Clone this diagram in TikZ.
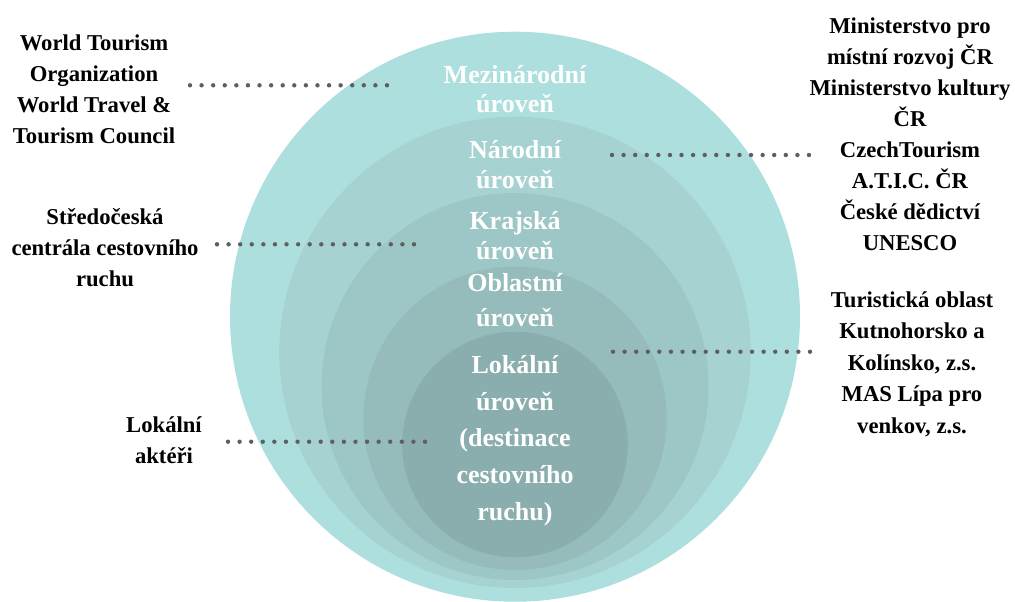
\documentclass[tikz,border=0pt]{standalone}
\usepackage{fontspec}
\setmainfont{Liberation Serif}
\definecolor{lvA}{HTML}{AEDFDF}
\definecolor{lvB}{HTML}{A6D2D2}
\definecolor{lvC}{HTML}{9DC7C6}
\definecolor{lvD}{HTML}{95BCBB}
\definecolor{lvE}{HTML}{8AADAD}
\definecolor{dotc}{HTML}{5F5F5F}
\begin{document}
\begin{tikzpicture}[x=0.75pt,y=-0.75pt,
  actor/.style={font=\fontsize{17}{23.25}\selectfont\bfseries, align=center, inner sep=0pt, anchor=base, text=black},
  level/.style={text=white, align=center, inner sep=0pt, anchor=base},
  dotline/.style={draw=dotc, line width=3.3pt, line cap=round, dash pattern=on 0pt off 8.691pt}]
\useasboundingbox (0,0) rectangle (1015,601);
\clip (0,0) rectangle (1015,601);
% nested circles
\fill[lvA] (515,316.7) circle [radius=285];
\fill[lvB] (515,352.3) circle [radius=235.7];
\fill[lvC] (515,386.5) circle [radius=193.5];
\fill[lvD] (515,418.3) circle [radius=151.7];
\fill[lvE] (515,444.5) circle [radius=112.8];
% level labels (anchor = baseline of last line)
\node[level, font=\fontsize{19.5}{22.1}\selectfont\bfseries] (mez) at (515,112.7) {Mezinárodní\\úroveň};
\node[level, font=\fontsize{19.5}{22.5}\selectfont\bfseries] (nar) at (515,188.3) {Národní\\úroveň};
\node[level, font=\fontsize{19.5}{22.0}\selectfont\bfseries] (kraj) at (515,259.3) {Krajská\\úroveň};
\node[level, font=\fontsize{19.5}{26.25}\selectfont\bfseries] (obl) at (515,326.7) {Oblastní\\úroveň};
\node[level, font=\fontsize{19.5}{27.5}\selectfont\bfseries] (lok) at (515,520) {Lokální\\úroveň\\(destinace\\cestovního\\ruchu)};
% actor texts
\node[actor] (wto) at (94,143.3) {World Tourism\\Organization\\World Travel \&\\Tourism Council};
\node[actor] (sccr) at (105,286) {Středočeská\\centrála cestovního\\ruchu};
\node[actor] (lokakt) at (164,463.3) {Lokální\\aktéři};
\node[actor] (mmr) at (910,250) {Ministerstvo pro\\místní rozvoj ČR\\Ministerstvo kultury\\ČR\\CzechTourism\\A.T.I.C. ČR\\České dědictví\\UNESCO};
\node[actor, font=\fontsize{17}{23.6}\selectfont\bfseries] (tok) at (912,433.3) {Turistická oblast\\Kutnohorsko a\\Kolínsko, z.s.\\MAS Lípa pro\\venkov, z.s.};
% dotted connectors
\coordinate (d1a) at (190,85.3);
\coordinate (d1b) at (387,85.3);
\coordinate (d2a) at (217,244.3);
\coordinate (d2b) at (414,244.3);
\coordinate (d3a) at (228,441.7);
\coordinate (d3b) at (425,441.7);
\coordinate (d4a) at (612,155);
\coordinate (d4b) at (809,155);
\coordinate (d5a) at (613,351.7);
\coordinate (d5b) at (810,351.7);
\draw[dotline] (d1a) -- (d1b);
\draw[dotline] (d2a) -- (d2b);
\draw[dotline] (d3a) -- (d3b);
\draw[dotline] (d4a) -- (d4b);
\draw[dotline] (d5a) -- (d5b);
\end{tikzpicture}
\end{document}
